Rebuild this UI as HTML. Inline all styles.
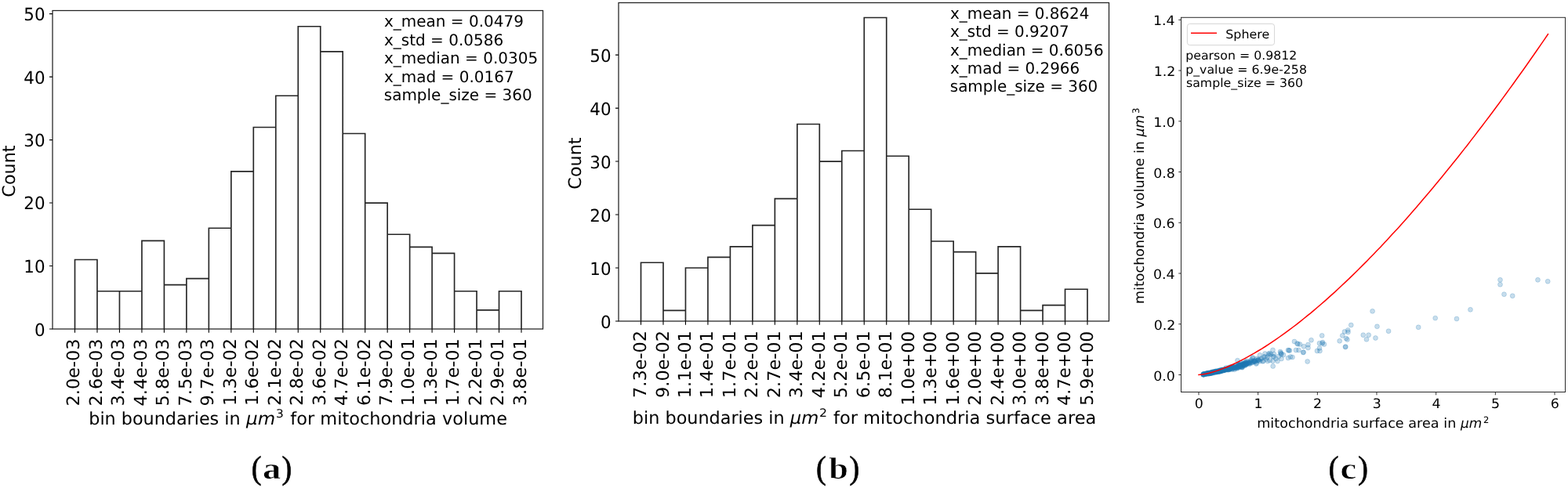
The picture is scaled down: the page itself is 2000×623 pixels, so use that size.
<!DOCTYPE html>
<html lang="en"><head><meta charset="utf-8"><title>Mitochondria volume and surface area statistics</title>
<style>
html,body{margin:0;padding:0;background:#fff;}
body{width:2000px;height:623px;overflow:hidden;}
svg{display:block;}
svg text{font-family:"DejaVu Sans","Liberation Sans",sans-serif;fill:#000;text-rendering:geometricPrecision;}
svg text.cm{font-family:"Liberation Serif","DejaVu Serif",serif;font-weight:bold;stroke:#fff;stroke-width:0.6px;}
svg text.cp{font-family:"Liberation Serif","DejaVu Serif",serif;font-weight:normal;stroke:#000;stroke-width:0.7px;}
</style></head><body>
<svg width="2000" height="623" viewBox="0 0 2000 623">
<rect width="2000" height="623" fill="#fff"/>
<g id="panel-a">
<path d="M95.50 420.00V331.48H123.97V420.00M123.97 420.00V371.72H152.45V420.00M152.45 420.00V371.72H180.93V420.00M180.93 420.00V307.34H209.40V420.00M209.40 420.00V363.67H237.88V420.00M237.88 420.00V355.62H266.35V420.00M266.35 420.00V291.25H294.83V420.00M294.83 420.00V218.82H323.30V420.00M323.30 420.00V162.50H351.78V420.00M351.78 420.00V122.26H380.25V420.00M380.25 420.00V33.74H408.73V420.00M408.73 420.00V65.93H437.20V420.00M437.20 420.00V170.54H465.68V420.00M465.68 420.00V259.06H494.15V420.00M494.15 420.00V299.29H522.62V420.00M522.62 420.00V315.39H551.10V420.00M551.10 420.00V323.44H579.58V420.00M579.58 420.00V371.72H608.05V420.00M608.05 420.00V395.86H636.52V420.00M636.52 420.00V371.72H665.00V420.00" fill="none" stroke="#262626" stroke-width="1.65"/>
<rect x="67.00" y="13.50" width="625.50" height="406.50" fill="none" stroke="#222" stroke-width="1.25"/>
<path d="M95.50 420.00v4.8M123.97 420.00v4.8M152.45 420.00v4.8M180.93 420.00v4.8M209.40 420.00v4.8M237.88 420.00v4.8M266.35 420.00v4.8M294.83 420.00v4.8M323.30 420.00v4.8M351.78 420.00v4.8M380.25 420.00v4.8M408.73 420.00v4.8M437.20 420.00v4.8M465.68 420.00v4.8M494.15 420.00v4.8M522.62 420.00v4.8M551.10 420.00v4.8M579.58 420.00v4.8M608.05 420.00v4.8M636.52 420.00v4.8M665.00 420.00v4.8M67.00 420.00h-4.0M67.00 339.53h-4.0M67.00 259.06h-4.0M67.00 178.59h-4.0M67.00 98.12h-4.0M67.00 17.65h-4.0" fill="none" stroke="#000" stroke-width="1.1"/>
<text transform="translate(57.61 429.00) scale(0.9650 1.0000)" font-size="22.2" text-anchor="end">0</text>
<text transform="translate(57.61 348.10) scale(0.9650 1.0000)" font-size="22.2" text-anchor="end">10</text>
<text transform="translate(57.61 267.10) scale(0.9650 1.0000)" font-size="22.2" text-anchor="end">20</text>
<text transform="translate(57.61 187.00) scale(0.9650 1.0000)" font-size="22.2" text-anchor="end">30</text>
<text transform="translate(57.61 106.50) scale(0.9650 1.0000)" font-size="22.2" text-anchor="end">40</text>
<text transform="translate(57.61 25.90) scale(0.9650 1.0000)" font-size="22.2" text-anchor="end">50</text>
<text transform="translate(101.33 432.49) scale(1.0000 1.0092) rotate(-90)" font-size="22.2" text-anchor="end">2.0e-03</text>
<text transform="translate(129.80 432.49) scale(1.0000 1.0092) rotate(-90)" font-size="22.2" text-anchor="end">2.6e-03</text>
<text transform="translate(158.27 432.49) scale(1.0000 1.0092) rotate(-90)" font-size="22.2" text-anchor="end">3.4e-03</text>
<text transform="translate(186.75 432.49) scale(1.0000 1.0092) rotate(-90)" font-size="22.2" text-anchor="end">4.4e-03</text>
<text transform="translate(215.22 432.49) scale(1.0000 1.0092) rotate(-90)" font-size="22.2" text-anchor="end">5.8e-03</text>
<text transform="translate(243.70 432.49) scale(1.0000 1.0092) rotate(-90)" font-size="22.2" text-anchor="end">7.5e-03</text>
<text transform="translate(272.18 432.49) scale(1.0000 1.0092) rotate(-90)" font-size="22.2" text-anchor="end">9.7e-03</text>
<text transform="translate(300.65 431.98) scale(1.0000 1.0092) rotate(-90)" font-size="22.2" text-anchor="end">1.3e-02</text>
<text transform="translate(329.12 431.98) scale(1.0000 1.0092) rotate(-90)" font-size="22.2" text-anchor="end">1.6e-02</text>
<text transform="translate(357.60 431.98) scale(1.0000 1.0092) rotate(-90)" font-size="22.2" text-anchor="end">2.1e-02</text>
<text transform="translate(386.07 431.98) scale(1.0000 1.0092) rotate(-90)" font-size="22.2" text-anchor="end">2.8e-02</text>
<text transform="translate(414.55 431.98) scale(1.0000 1.0092) rotate(-90)" font-size="22.2" text-anchor="end">3.6e-02</text>
<text transform="translate(443.03 431.98) scale(1.0000 1.0092) rotate(-90)" font-size="22.2" text-anchor="end">4.7e-02</text>
<text transform="translate(471.50 431.98) scale(1.0000 1.0092) rotate(-90)" font-size="22.2" text-anchor="end">6.1e-02</text>
<text transform="translate(499.98 431.98) scale(1.0000 1.0092) rotate(-90)" font-size="22.2" text-anchor="end">7.9e-02</text>
<text transform="translate(528.45 432.23) scale(1.0000 1.0092) rotate(-90)" font-size="22.2" text-anchor="end">1.0e-01</text>
<text transform="translate(556.93 432.23) scale(1.0000 1.0092) rotate(-90)" font-size="22.2" text-anchor="end">1.3e-01</text>
<text transform="translate(585.40 432.23) scale(1.0000 1.0092) rotate(-90)" font-size="22.2" text-anchor="end">1.7e-01</text>
<text transform="translate(613.88 432.23) scale(1.0000 1.0092) rotate(-90)" font-size="22.2" text-anchor="end">2.2e-01</text>
<text transform="translate(642.35 432.23) scale(1.0000 1.0092) rotate(-90)" font-size="22.2" text-anchor="end">2.9e-01</text>
<text transform="translate(670.83 432.23) scale(1.0000 1.0092) rotate(-90)" font-size="22.2" text-anchor="end">3.8e-01</text>
<text transform="translate(113.24 542.00) scale(1.0040 1.0000)" font-size="22.2">bin boundaries in</text>
<text transform="translate(314.11 542.00) scale(1.0348 1.0000)" font-size="22.2" font-style="italic">μm</text>
<text transform="translate(351.91 532.91) scale(0.9931 0.9447)" font-size="15.5">3</text>
<text transform="translate(370.34 542.00) scale(1.0107 1.0000)" font-size="22.2">for mitochondria volume</text>
<text transform="translate(19.12 218.58) scale(1.0000 1.0039) rotate(-90)" font-size="22.2" text-anchor="middle">Count</text>
<text transform="translate(490.00 34.30) scale(0.9992 1.0000)" font-size="20">x_mean = 0.0479</text>
<text transform="translate(490.00 57.70) scale(0.9992 1.0000)" font-size="20">x_std = 0.0586</text>
<text transform="translate(490.00 81.10) scale(0.9992 1.0000)" font-size="20">x_median = 0.0305</text>
<text transform="translate(490.00 104.50) scale(0.9992 1.0000)" font-size="20">x_mad = 0.0167</text>
<text transform="translate(489.75 127.90) scale(0.9992 1.0000)" font-size="20">sample_size = 360</text>
</g>
<g id="panel-b">
<path d="M817.50 410.00V335.22H845.98V410.00M845.98 410.00V396.40H874.45V410.00M874.45 410.00V342.02H902.92V410.00M902.92 410.00V328.42H931.40V410.00M931.40 410.00V314.83H959.88V410.00M959.88 410.00V287.64H988.35V410.00M988.35 410.00V253.65H1016.83V410.00M1016.83 410.00V158.47H1045.30V410.00M1045.30 410.00V206.06H1073.78V410.00M1073.78 410.00V192.46H1102.25V410.00M1102.25 410.00V22.51H1130.72V410.00M1130.72 410.00V199.26H1159.20V410.00M1159.20 410.00V267.24H1187.67V410.00M1187.67 410.00V308.03H1216.15V410.00M1216.15 410.00V321.63H1244.62V410.00M1244.62 410.00V348.82H1273.10V410.00M1273.10 410.00V314.83H1301.58V410.00M1301.58 410.00V396.40H1330.05V410.00M1330.05 410.00V389.61H1358.53V410.00M1358.53 410.00V369.21H1387.00V410.00" fill="none" stroke="#262626" stroke-width="1.65"/>
<rect x="789.00" y="3.50" width="625.50" height="406.50" fill="none" stroke="#222" stroke-width="1.25"/>
<path d="M817.50 410.00v4.8M845.98 410.00v4.8M874.45 410.00v4.8M902.92 410.00v4.8M931.40 410.00v4.8M959.88 410.00v4.8M988.35 410.00v4.8M1016.83 410.00v4.8M1045.30 410.00v4.8M1073.78 410.00v4.8M1102.25 410.00v4.8M1130.72 410.00v4.8M1159.20 410.00v4.8M1187.67 410.00v4.8M1216.15 410.00v4.8M1244.62 410.00v4.8M1273.10 410.00v4.8M1301.58 410.00v4.8M1330.05 410.00v4.8M1358.53 410.00v4.8M1387.00 410.00v4.8M789.00 410.00h-4.0M789.00 342.02h-4.0M789.00 274.04h-4.0M789.00 206.06h-4.0M789.00 138.08h-4.0M789.00 70.10h-4.0" fill="none" stroke="#000" stroke-width="1.1"/>
<text transform="translate(779.61 419.00) scale(0.9650 1.0000)" font-size="22.2" text-anchor="end">0</text>
<text transform="translate(779.61 351.02) scale(0.9650 1.0000)" font-size="22.2" text-anchor="end">10</text>
<text transform="translate(779.61 283.04) scale(0.9650 1.0000)" font-size="22.2" text-anchor="end">20</text>
<text transform="translate(779.61 215.06) scale(0.9650 1.0000)" font-size="22.2" text-anchor="end">30</text>
<text transform="translate(779.61 147.08) scale(0.9650 1.0000)" font-size="22.2" text-anchor="end">40</text>
<text transform="translate(779.61 79.10) scale(0.9650 1.0000)" font-size="22.2" text-anchor="end">50</text>
<text transform="translate(824.02 421.98) scale(1.0000 1.0092) rotate(-90)" font-size="22.2" text-anchor="end">7.3e-02</text>
<text transform="translate(852.50 421.98) scale(1.0000 1.0092) rotate(-90)" font-size="22.2" text-anchor="end">9.0e-02</text>
<text transform="translate(880.98 422.23) scale(1.0000 1.0092) rotate(-90)" font-size="22.2" text-anchor="end">1.1e-01</text>
<text transform="translate(909.45 422.23) scale(1.0000 1.0092) rotate(-90)" font-size="22.2" text-anchor="end">1.4e-01</text>
<text transform="translate(937.92 422.23) scale(1.0000 1.0092) rotate(-90)" font-size="22.2" text-anchor="end">1.7e-01</text>
<text transform="translate(966.40 422.23) scale(1.0000 1.0092) rotate(-90)" font-size="22.2" text-anchor="end">2.2e-01</text>
<text transform="translate(994.88 422.23) scale(1.0000 1.0092) rotate(-90)" font-size="22.2" text-anchor="end">2.7e-01</text>
<text transform="translate(1023.35 422.23) scale(1.0000 1.0092) rotate(-90)" font-size="22.2" text-anchor="end">3.4e-01</text>
<text transform="translate(1051.83 422.23) scale(1.0000 1.0092) rotate(-90)" font-size="22.2" text-anchor="end">4.2e-01</text>
<text transform="translate(1080.30 422.23) scale(1.0000 1.0092) rotate(-90)" font-size="22.2" text-anchor="end">5.2e-01</text>
<text transform="translate(1108.78 422.23) scale(1.0000 1.0092) rotate(-90)" font-size="22.2" text-anchor="end">6.5e-01</text>
<text transform="translate(1137.25 422.23) scale(1.0000 1.0092) rotate(-90)" font-size="22.2" text-anchor="end">8.1e-01</text>
<text transform="translate(1165.73 422.76) scale(1.0000 0.9924) rotate(-90)" font-size="22.2" text-anchor="end">1.0e+00</text>
<text transform="translate(1194.20 422.76) scale(1.0000 0.9924) rotate(-90)" font-size="22.2" text-anchor="end">1.3e+00</text>
<text transform="translate(1222.68 422.76) scale(1.0000 0.9924) rotate(-90)" font-size="22.2" text-anchor="end">1.6e+00</text>
<text transform="translate(1251.15 422.76) scale(1.0000 0.9924) rotate(-90)" font-size="22.2" text-anchor="end">2.0e+00</text>
<text transform="translate(1279.62 422.76) scale(1.0000 0.9924) rotate(-90)" font-size="22.2" text-anchor="end">2.4e+00</text>
<text transform="translate(1308.10 422.76) scale(1.0000 0.9924) rotate(-90)" font-size="22.2" text-anchor="end">3.0e+00</text>
<text transform="translate(1336.58 422.76) scale(1.0000 0.9924) rotate(-90)" font-size="22.2" text-anchor="end">3.8e+00</text>
<text transform="translate(1365.05 422.76) scale(1.0000 0.9924) rotate(-90)" font-size="22.2" text-anchor="end">4.7e+00</text>
<text transform="translate(1393.53 422.76) scale(1.0000 0.9924) rotate(-90)" font-size="22.2" text-anchor="end">5.9e+00</text>
<text transform="translate(806.84 541.00) scale(1.0061 1.0000)" font-size="22.2">bin boundaries in</text>
<text transform="translate(1007.81 541.00) scale(1.0203 1.0000)" font-size="22.2" font-style="italic">μm</text>
<text transform="translate(1044.98 531.75) scale(1.0143 0.9304)" font-size="15.5">2</text>
<text transform="translate(1062.94 541.00) scale(1.0162 1.0000)" font-size="22.2">for mitochondria surface area</text>
<text transform="translate(741.12 208.58) scale(1.0000 1.0039) rotate(-90)" font-size="22.2" text-anchor="middle">Count</text>
<text transform="translate(1212.00 24.30) scale(0.9967 1.0000)" font-size="20">x_mean = 0.8624</text>
<text transform="translate(1212.00 47.10) scale(0.9967 1.0000)" font-size="20">x_std = 0.9207</text>
<text transform="translate(1212.00 70.50) scale(0.9967 1.0000)" font-size="20">x_median = 0.6056</text>
<text transform="translate(1212.00 93.90) scale(0.9967 1.0000)" font-size="20">x_mad = 0.2966</text>
<text transform="translate(1211.75 117.30) scale(0.9967 1.0000)" font-size="20">sample_size = 360</text>
</g>
<g id="panel-c">
<g fill="#1f77b4" fill-opacity="0.25" stroke="#1f77b4" stroke-opacity="0.25" stroke-width="0.9">
<circle cx="1913.5" cy="357.3" r="2.95"/>
<circle cx="1913.5" cy="363.2" r="2.95"/>
<circle cx="1918.5" cy="375.7" r="2.95"/>
<circle cx="1929.2" cy="377.7" r="2.95"/>
<circle cx="1961.5" cy="357.3" r="2.95"/>
<circle cx="1974.2" cy="359.2" r="2.95"/>
<circle cx="1830.7" cy="406.1" r="2.95"/>
<circle cx="1858.0" cy="407.0" r="2.95"/>
<circle cx="1875.5" cy="395.3" r="2.95"/>
<circle cx="1771.1" cy="422.7" r="2.95"/>
<circle cx="1809.2" cy="417.8" r="2.95"/>
<circle cx="1750.6" cy="397.3" r="2.95"/>
<circle cx="1723.3" cy="415.0" r="2.95"/>
<circle cx="1756.5" cy="416.8" r="2.95"/>
<circle cx="1719.3" cy="421.5" r="2.95"/>
<circle cx="1715.0" cy="423.5" r="2.95"/>
<circle cx="1719.5" cy="424.0" r="2.95"/>
<circle cx="1712.3" cy="428.4" r="2.95"/>
<circle cx="1717.0" cy="432.0" r="2.95"/>
<circle cx="1718.5" cy="433.5" r="2.95"/>
<circle cx="1738.8" cy="427.7" r="2.95"/>
<circle cx="1745.7" cy="427.7" r="2.95"/>
<circle cx="1743.0" cy="433.3" r="2.95"/>
<circle cx="1754.5" cy="431.5" r="2.95"/>
<circle cx="1716.0" cy="443.0" r="2.95"/>
<circle cx="1716.3" cy="442.6" r="2.95"/>
<circle cx="1686.2" cy="428.4" r="2.95"/>
<circle cx="1683.0" cy="438.2" r="2.95"/>
<circle cx="1687.0" cy="437.0" r="2.95"/>
<circle cx="1689.0" cy="439.5" r="2.95"/>
<circle cx="1683.0" cy="444.5" r="2.95"/>
<circle cx="1683.5" cy="448.0" r="2.95"/>
<circle cx="1708.7" cy="435.3" r="2.95"/>
<circle cx="1680.0" cy="448.0" r="2.95"/>
<circle cx="1686.5" cy="438.4" r="2.95"/>
<circle cx="1672.5" cy="434.2" r="2.95"/>
<circle cx="1651.0" cy="436.0" r="2.95"/>
<circle cx="1654.5" cy="438.5" r="2.95"/>
<circle cx="1658.0" cy="439.5" r="2.95"/>
<circle cx="1663.0" cy="442.2" r="2.95"/>
<circle cx="1668.5" cy="440.0" r="2.95"/>
<circle cx="1668.5" cy="444.0" r="2.95"/>
<circle cx="1653.0" cy="447.0" r="2.95"/>
<circle cx="1656.5" cy="447.0" r="2.95"/>
<circle cx="1662.3" cy="450.0" r="2.95"/>
<circle cx="1662.6" cy="449.6" r="2.95"/>
<circle cx="1667.7" cy="461.5" r="2.95"/>
<circle cx="1655.5" cy="439.2" r="2.95"/>
<circle cx="1643.0" cy="447.0" r="2.95"/>
<circle cx="1645.0" cy="447.5" r="2.95"/>
<circle cx="1643.0" cy="457.0" r="2.95"/>
<circle cx="1646.0" cy="455.5" r="2.95"/>
<circle cx="1648.5" cy="456.0" r="2.95"/>
<circle cx="1633.0" cy="449.0" r="2.95"/>
<circle cx="1634.5" cy="451.5" r="2.95"/>
<circle cx="1637.0" cy="453.0" r="2.95"/>
<circle cx="1634.5" cy="458.0" r="2.95"/>
<circle cx="1629.5" cy="461.0" r="2.95"/>
<circle cx="1627.5" cy="458.0" r="2.95"/>
<circle cx="1633.5" cy="450.5" r="2.95"/>
<circle cx="1634.0" cy="452.3" r="2.95"/>
<circle cx="1631.0" cy="455.0" r="2.95"/>
<circle cx="1644.0" cy="447.3" r="2.95"/>
<circle cx="1623.7" cy="467.5" r="2.95"/>
<circle cx="1578.5" cy="460.2" r="2.95"/>
<circle cx="1598.0" cy="456.5" r="2.95"/>
<circle cx="1607.0" cy="453.3" r="2.95"/>
<circle cx="1613.5" cy="451.5" r="2.95"/>
<circle cx="1619.5" cy="451.0" r="2.95"/>
<circle cx="1625.0" cy="452.0" r="2.95"/>
<circle cx="1624.0" cy="455.0" r="2.95"/>
<circle cx="1623.5" cy="461.0" r="2.95"/>
<circle cx="1617.0" cy="461.0" r="2.95"/>
<circle cx="1534.6" cy="478.2" r="2.95"/>
<circle cx="1534.7" cy="477.9" r="2.95"/>
<circle cx="1534.8" cy="477.9" r="2.95"/>
<circle cx="1534.9" cy="478.2" r="2.95"/>
<circle cx="1535.0" cy="478.1" r="2.95"/>
<circle cx="1535.2" cy="477.3" r="2.95"/>
<circle cx="1535.3" cy="478.4" r="2.95"/>
<circle cx="1535.5" cy="477.8" r="2.95"/>
<circle cx="1535.5" cy="477.3" r="2.95"/>
<circle cx="1535.6" cy="477.6" r="2.95"/>
<circle cx="1535.8" cy="478.2" r="2.95"/>
<circle cx="1535.9" cy="477.9" r="2.95"/>
<circle cx="1537.3" cy="477.4" r="2.95"/>
<circle cx="1537.7" cy="477.5" r="2.95"/>
<circle cx="1537.9" cy="477.3" r="2.95"/>
<circle cx="1538.1" cy="477.0" r="2.95"/>
<circle cx="1538.3" cy="477.7" r="2.95"/>
<circle cx="1538.4" cy="476.5" r="2.95"/>
<circle cx="1538.6" cy="477.1" r="2.95"/>
<circle cx="1538.9" cy="477.1" r="2.95"/>
<circle cx="1539.2" cy="477.1" r="2.95"/>
<circle cx="1539.3" cy="476.9" r="2.95"/>
<circle cx="1539.6" cy="476.7" r="2.95"/>
<circle cx="1539.7" cy="476.9" r="2.95"/>
<circle cx="1540.0" cy="476.8" r="2.95"/>
<circle cx="1540.2" cy="476.8" r="2.95"/>
<circle cx="1540.3" cy="477.4" r="2.95"/>
<circle cx="1540.5" cy="476.6" r="2.95"/>
<circle cx="1540.7" cy="476.4" r="2.95"/>
<circle cx="1540.9" cy="476.7" r="2.95"/>
<circle cx="1541.3" cy="476.1" r="2.95"/>
<circle cx="1541.4" cy="477.0" r="2.95"/>
<circle cx="1541.7" cy="476.6" r="2.95"/>
<circle cx="1541.9" cy="477.2" r="2.95"/>
<circle cx="1542.1" cy="477.1" r="2.95"/>
<circle cx="1542.3" cy="476.6" r="2.95"/>
<circle cx="1542.6" cy="476.7" r="2.95"/>
<circle cx="1542.8" cy="476.5" r="2.95"/>
<circle cx="1543.1" cy="475.6" r="2.95"/>
<circle cx="1543.4" cy="475.9" r="2.95"/>
<circle cx="1543.5" cy="476.3" r="2.95"/>
<circle cx="1543.6" cy="476.7" r="2.95"/>
<circle cx="1543.9" cy="476.6" r="2.95"/>
<circle cx="1544.1" cy="476.4" r="2.95"/>
<circle cx="1544.3" cy="475.8" r="2.95"/>
<circle cx="1544.7" cy="476.4" r="2.95"/>
<circle cx="1544.9" cy="476.6" r="2.95"/>
<circle cx="1545.3" cy="475.2" r="2.95"/>
<circle cx="1545.4" cy="476.5" r="2.95"/>
<circle cx="1545.6" cy="476.1" r="2.95"/>
<circle cx="1545.9" cy="475.3" r="2.95"/>
<circle cx="1546.1" cy="476.1" r="2.95"/>
<circle cx="1546.3" cy="474.9" r="2.95"/>
<circle cx="1546.6" cy="475.4" r="2.95"/>
<circle cx="1546.7" cy="475.5" r="2.95"/>
<circle cx="1546.9" cy="475.2" r="2.95"/>
<circle cx="1547.1" cy="475.0" r="2.95"/>
<circle cx="1547.4" cy="474.6" r="2.95"/>
<circle cx="1547.7" cy="475.5" r="2.95"/>
<circle cx="1547.8" cy="476.2" r="2.95"/>
<circle cx="1547.9" cy="475.3" r="2.95"/>
<circle cx="1548.4" cy="475.1" r="2.95"/>
<circle cx="1548.6" cy="474.4" r="2.95"/>
<circle cx="1548.7" cy="475.6" r="2.95"/>
<circle cx="1548.9" cy="474.7" r="2.95"/>
<circle cx="1549.3" cy="474.6" r="2.95"/>
<circle cx="1549.5" cy="474.9" r="2.95"/>
<circle cx="1549.8" cy="474.9" r="2.95"/>
<circle cx="1550.0" cy="474.9" r="2.95"/>
<circle cx="1550.1" cy="474.6" r="2.95"/>
<circle cx="1550.4" cy="474.7" r="2.95"/>
<circle cx="1550.6" cy="474.9" r="2.95"/>
<circle cx="1550.7" cy="474.0" r="2.95"/>
<circle cx="1550.9" cy="473.7" r="2.95"/>
<circle cx="1551.3" cy="474.9" r="2.95"/>
<circle cx="1551.3" cy="475.5" r="2.95"/>
<circle cx="1551.7" cy="474.5" r="2.95"/>
<circle cx="1551.8" cy="474.6" r="2.95"/>
<circle cx="1552.1" cy="474.7" r="2.95"/>
<circle cx="1552.2" cy="474.1" r="2.95"/>
<circle cx="1552.4" cy="474.2" r="2.95"/>
<circle cx="1552.7" cy="474.3" r="2.95"/>
<circle cx="1552.9" cy="473.5" r="2.95"/>
<circle cx="1553.2" cy="474.5" r="2.95"/>
<circle cx="1553.4" cy="474.0" r="2.95"/>
<circle cx="1553.5" cy="473.9" r="2.95"/>
<circle cx="1553.8" cy="474.8" r="2.95"/>
<circle cx="1554.0" cy="473.9" r="2.95"/>
<circle cx="1554.3" cy="473.9" r="2.95"/>
<circle cx="1554.5" cy="474.4" r="2.95"/>
<circle cx="1554.8" cy="474.3" r="2.95"/>
<circle cx="1555.0" cy="474.0" r="2.95"/>
<circle cx="1555.1" cy="474.2" r="2.95"/>
<circle cx="1555.2" cy="473.8" r="2.95"/>
<circle cx="1555.4" cy="472.6" r="2.95"/>
<circle cx="1555.6" cy="474.3" r="2.95"/>
<circle cx="1555.7" cy="473.1" r="2.95"/>
<circle cx="1555.8" cy="474.1" r="2.95"/>
<circle cx="1556.0" cy="473.5" r="2.95"/>
<circle cx="1556.2" cy="473.0" r="2.95"/>
<circle cx="1556.3" cy="474.1" r="2.95"/>
<circle cx="1556.6" cy="473.8" r="2.95"/>
<circle cx="1556.6" cy="473.0" r="2.95"/>
<circle cx="1556.9" cy="473.3" r="2.95"/>
<circle cx="1557.0" cy="474.2" r="2.95"/>
<circle cx="1557.1" cy="473.3" r="2.95"/>
<circle cx="1557.4" cy="472.6" r="2.95"/>
<circle cx="1557.4" cy="473.4" r="2.95"/>
<circle cx="1557.7" cy="473.0" r="2.95"/>
<circle cx="1557.9" cy="472.7" r="2.95"/>
<circle cx="1558.0" cy="472.9" r="2.95"/>
<circle cx="1558.2" cy="473.4" r="2.95"/>
<circle cx="1558.4" cy="472.3" r="2.95"/>
<circle cx="1558.5" cy="473.2" r="2.95"/>
<circle cx="1558.7" cy="473.6" r="2.95"/>
<circle cx="1558.9" cy="473.3" r="2.95"/>
<circle cx="1559.0" cy="471.8" r="2.95"/>
<circle cx="1559.2" cy="472.9" r="2.95"/>
<circle cx="1559.4" cy="472.6" r="2.95"/>
<circle cx="1559.6" cy="472.9" r="2.95"/>
<circle cx="1559.8" cy="472.5" r="2.95"/>
<circle cx="1559.9" cy="472.5" r="2.95"/>
<circle cx="1560.1" cy="472.7" r="2.95"/>
<circle cx="1560.4" cy="472.3" r="2.95"/>
<circle cx="1560.5" cy="472.8" r="2.95"/>
<circle cx="1560.7" cy="472.5" r="2.95"/>
<circle cx="1561.0" cy="472.9" r="2.95"/>
<circle cx="1561.2" cy="473.0" r="2.95"/>
<circle cx="1561.4" cy="472.7" r="2.95"/>
<circle cx="1561.6" cy="472.0" r="2.95"/>
<circle cx="1561.9" cy="471.3" r="2.95"/>
<circle cx="1562.1" cy="472.1" r="2.95"/>
<circle cx="1562.3" cy="472.7" r="2.95"/>
<circle cx="1562.5" cy="471.7" r="2.95"/>
<circle cx="1562.8" cy="471.5" r="2.95"/>
<circle cx="1563.2" cy="471.5" r="2.95"/>
<circle cx="1563.3" cy="471.9" r="2.95"/>
<circle cx="1563.5" cy="471.3" r="2.95"/>
<circle cx="1563.8" cy="469.5" r="2.95"/>
<circle cx="1564.0" cy="471.7" r="2.95"/>
<circle cx="1564.3" cy="471.8" r="2.95"/>
<circle cx="1564.6" cy="471.6" r="2.95"/>
<circle cx="1564.8" cy="471.9" r="2.95"/>
<circle cx="1565.0" cy="471.6" r="2.95"/>
<circle cx="1565.3" cy="471.0" r="2.95"/>
<circle cx="1565.7" cy="471.2" r="2.95"/>
<circle cx="1566.0" cy="471.5" r="2.95"/>
<circle cx="1566.2" cy="472.4" r="2.95"/>
<circle cx="1566.6" cy="470.1" r="2.95"/>
<circle cx="1566.6" cy="469.6" r="2.95"/>
<circle cx="1567.1" cy="471.5" r="2.95"/>
<circle cx="1567.2" cy="471.8" r="2.95"/>
<circle cx="1567.6" cy="469.7" r="2.95"/>
<circle cx="1567.9" cy="471.6" r="2.95"/>
<circle cx="1568.2" cy="471.4" r="2.95"/>
<circle cx="1568.3" cy="471.4" r="2.95"/>
<circle cx="1568.6" cy="469.9" r="2.95"/>
<circle cx="1569.0" cy="471.2" r="2.95"/>
<circle cx="1569.3" cy="468.4" r="2.95"/>
<circle cx="1569.6" cy="470.3" r="2.95"/>
<circle cx="1569.9" cy="469.0" r="2.95"/>
<circle cx="1570.0" cy="469.8" r="2.95"/>
<circle cx="1570.5" cy="469.2" r="2.95"/>
<circle cx="1570.7" cy="468.6" r="2.95"/>
<circle cx="1571.0" cy="470.5" r="2.95"/>
<circle cx="1571.3" cy="471.7" r="2.95"/>
<circle cx="1571.5" cy="470.1" r="2.95"/>
<circle cx="1571.9" cy="468.5" r="2.95"/>
<circle cx="1572.0" cy="469.7" r="2.95"/>
<circle cx="1572.5" cy="468.2" r="2.95"/>
<circle cx="1572.7" cy="470.9" r="2.95"/>
<circle cx="1573.2" cy="469.5" r="2.95"/>
<circle cx="1573.5" cy="469.2" r="2.95"/>
<circle cx="1573.7" cy="468.8" r="2.95"/>
<circle cx="1573.9" cy="468.8" r="2.95"/>
<circle cx="1574.2" cy="468.3" r="2.95"/>
<circle cx="1574.5" cy="471.7" r="2.95"/>
<circle cx="1575.0" cy="469.3" r="2.95"/>
<circle cx="1575.3" cy="468.6" r="2.95"/>
<circle cx="1575.5" cy="470.0" r="2.95"/>
<circle cx="1575.7" cy="470.0" r="2.95"/>
<circle cx="1576.1" cy="468.7" r="2.95"/>
<circle cx="1576.4" cy="468.2" r="2.95"/>
<circle cx="1576.9" cy="468.8" r="2.95"/>
<circle cx="1577.3" cy="469.1" r="2.95"/>
<circle cx="1577.4" cy="470.5" r="2.95"/>
<circle cx="1578.0" cy="469.1" r="2.95"/>
<circle cx="1578.1" cy="469.1" r="2.95"/>
<circle cx="1578.4" cy="467.1" r="2.95"/>
<circle cx="1578.7" cy="468.9" r="2.95"/>
<circle cx="1578.9" cy="467.0" r="2.95"/>
<circle cx="1579.2" cy="466.3" r="2.95"/>
<circle cx="1579.4" cy="465.0" r="2.95"/>
<circle cx="1579.6" cy="469.5" r="2.95"/>
<circle cx="1579.8" cy="469.2" r="2.95"/>
<circle cx="1579.9" cy="467.4" r="2.95"/>
<circle cx="1580.2" cy="466.7" r="2.95"/>
<circle cx="1580.3" cy="466.2" r="2.95"/>
<circle cx="1580.6" cy="467.7" r="2.95"/>
<circle cx="1580.7" cy="465.5" r="2.95"/>
<circle cx="1580.8" cy="466.5" r="2.95"/>
<circle cx="1581.1" cy="466.8" r="2.95"/>
<circle cx="1581.4" cy="466.1" r="2.95"/>
<circle cx="1581.5" cy="467.6" r="2.95"/>
<circle cx="1581.7" cy="466.5" r="2.95"/>
<circle cx="1581.9" cy="466.1" r="2.95"/>
<circle cx="1582.2" cy="468.0" r="2.95"/>
<circle cx="1582.3" cy="466.4" r="2.95"/>
<circle cx="1582.4" cy="467.8" r="2.95"/>
<circle cx="1582.7" cy="462.8" r="2.95"/>
<circle cx="1583.0" cy="466.8" r="2.95"/>
<circle cx="1583.1" cy="465.7" r="2.95"/>
<circle cx="1583.5" cy="465.4" r="2.95"/>
<circle cx="1583.5" cy="468.4" r="2.95"/>
<circle cx="1583.9" cy="468.6" r="2.95"/>
<circle cx="1584.0" cy="465.7" r="2.95"/>
<circle cx="1584.3" cy="464.2" r="2.95"/>
<circle cx="1584.3" cy="469.2" r="2.95"/>
<circle cx="1584.6" cy="467.3" r="2.95"/>
<circle cx="1584.9" cy="468.5" r="2.95"/>
<circle cx="1585.1" cy="466.2" r="2.95"/>
<circle cx="1585.2" cy="465.8" r="2.95"/>
<circle cx="1585.5" cy="466.5" r="2.95"/>
<circle cx="1585.8" cy="465.1" r="2.95"/>
<circle cx="1585.9" cy="464.2" r="2.95"/>
<circle cx="1586.1" cy="465.4" r="2.95"/>
<circle cx="1586.4" cy="464.6" r="2.95"/>
<circle cx="1586.7" cy="465.5" r="2.95"/>
<circle cx="1586.9" cy="466.9" r="2.95"/>
<circle cx="1587.2" cy="465.2" r="2.95"/>
<circle cx="1587.2" cy="463.6" r="2.95"/>
<circle cx="1587.5" cy="465.5" r="2.95"/>
<circle cx="1587.8" cy="464.9" r="2.95"/>
<circle cx="1587.9" cy="465.9" r="2.95"/>
<circle cx="1588.2" cy="464.1" r="2.95"/>
<circle cx="1588.4" cy="462.8" r="2.95"/>
<circle cx="1588.7" cy="466.4" r="2.95"/>
<circle cx="1588.8" cy="462.0" r="2.95"/>
<circle cx="1589.0" cy="463.6" r="2.95"/>
<circle cx="1589.3" cy="465.5" r="2.95"/>
<circle cx="1589.6" cy="464.1" r="2.95"/>
<circle cx="1589.7" cy="464.6" r="2.95"/>
<circle cx="1589.9" cy="464.4" r="2.95"/>
<circle cx="1590.4" cy="464.1" r="2.95"/>
<circle cx="1590.6" cy="460.7" r="2.95"/>
<circle cx="1590.7" cy="464.2" r="2.95"/>
<circle cx="1591.2" cy="462.1" r="2.95"/>
<circle cx="1591.5" cy="464.0" r="2.95"/>
<circle cx="1591.9" cy="463.0" r="2.95"/>
<circle cx="1592.8" cy="464.3" r="2.95"/>
<circle cx="1593.3" cy="463.0" r="2.95"/>
<circle cx="1593.7" cy="462.2" r="2.95"/>
<circle cx="1593.9" cy="464.7" r="2.95"/>
<circle cx="1594.4" cy="463.3" r="2.95"/>
<circle cx="1595.3" cy="461.1" r="2.95"/>
<circle cx="1595.8" cy="463.2" r="2.95"/>
<circle cx="1595.9" cy="459.3" r="2.95"/>
<circle cx="1596.8" cy="460.8" r="2.95"/>
<circle cx="1597.1" cy="463.1" r="2.95"/>
<circle cx="1597.6" cy="457.2" r="2.95"/>
<circle cx="1598.2" cy="462.1" r="2.95"/>
<circle cx="1599.1" cy="461.8" r="2.95"/>
<circle cx="1599.6" cy="460.6" r="2.95"/>
<circle cx="1600.2" cy="461.1" r="2.95"/>
<circle cx="1600.5" cy="461.7" r="2.95"/>
<circle cx="1601.3" cy="459.6" r="2.95"/>
<circle cx="1601.8" cy="461.2" r="2.95"/>
<circle cx="1602.3" cy="464.5" r="2.95"/>
<circle cx="1602.7" cy="463.5" r="2.95"/>
<circle cx="1603.2" cy="457.8" r="2.95"/>
<circle cx="1603.8" cy="460.1" r="2.95"/>
<circle cx="1604.5" cy="459.7" r="2.95"/>
<circle cx="1605.4" cy="458.9" r="2.95"/>
<circle cx="1605.5" cy="460.2" r="2.95"/>
<circle cx="1606.9" cy="461.2" r="2.95"/>
<circle cx="1607.9" cy="458.7" r="2.95"/>
<circle cx="1609.2" cy="457.5" r="2.95"/>
<circle cx="1610.5" cy="461.3" r="2.95"/>
<circle cx="1611.4" cy="461.0" r="2.95"/>
<circle cx="1612.2" cy="455.5" r="2.95"/>
<circle cx="1613.3" cy="455.5" r="2.95"/>
<circle cx="1614.9" cy="458.6" r="2.95"/>
<circle cx="1616.3" cy="456.1" r="2.95"/>
<circle cx="1618.2" cy="451.6" r="2.95"/>
<circle cx="1618.8" cy="453.4" r="2.95"/>
<circle cx="1619.6" cy="459.9" r="2.95"/>
<circle cx="1621.0" cy="452.4" r="2.95"/>
<circle cx="1623.5" cy="446.9" r="2.95"/>
<circle cx="1624.8" cy="455.6" r="2.95"/>
</g>
<path d="M1529.0 478.5L1533.5 478.1L1537.9 477.3L1542.4 476.2L1546.8 475.0L1551.3 473.6L1555.7 472.1L1560.2 470.4L1564.6 468.7L1569.1 466.8L1573.6 464.7L1578.0 462.6L1582.5 460.4L1586.9 458.1L1591.4 455.7L1595.8 453.2L1600.3 450.7L1604.7 448.0L1609.2 445.3L1613.7 442.5L1618.1 439.6L1622.6 436.6L1627.0 433.6L1631.5 430.5L1635.9 427.4L1640.4 424.1L1644.8 420.8L1649.3 417.5L1653.8 414.1L1658.2 410.6L1662.7 407.0L1667.1 403.4L1671.6 399.8L1676.0 396.1L1680.5 392.3L1684.9 388.5L1689.4 384.6L1693.9 380.6L1698.3 376.6L1702.8 372.6L1707.2 368.5L1711.7 364.3L1716.1 360.1L1720.6 355.9L1725.0 351.6L1729.5 347.2L1734.0 342.8L1738.4 338.4L1742.9 333.9L1747.3 329.3L1751.8 324.7L1756.2 320.1L1760.7 315.4L1765.1 310.7L1769.6 305.9L1774.0 301.1L1778.5 296.3L1783.0 291.4L1787.4 286.4L1791.9 281.4L1796.3 276.4L1800.8 271.3L1805.2 266.2L1809.7 261.0L1814.1 255.8L1818.6 250.6L1823.1 245.3L1827.5 240.0L1832.0 234.6L1836.4 229.2L1840.9 223.8L1845.3 218.3L1849.8 212.8L1854.2 207.3L1858.7 201.7L1863.2 196.0L1867.6 190.4L1872.1 184.7L1876.5 178.9L1881.0 173.1L1885.4 167.3L1889.9 161.5L1894.3 155.6L1898.8 149.7L1903.3 143.7L1907.7 137.7L1912.2 131.7L1916.6 125.6L1921.1 119.5L1925.5 113.4L1930.0 107.2L1934.4 101.0L1938.9 94.7L1943.4 88.5L1947.8 82.2L1952.3 75.8L1956.7 69.5L1961.2 63.0L1965.6 56.6L1970.1 50.1L1974.5 43.6" fill="none" stroke="#ff0000" stroke-width="1.5" stroke-linecap="square"/>
<rect x="1506.50" y="22.30" width="490.00" height="478.20" fill="none" stroke="#2a2a2a" stroke-width="1.0"/>
<path d="M1529.00 500.50v3.8M1604.67 500.50v3.8M1680.34 500.50v3.8M1756.01 500.50v3.8M1831.68 500.50v3.8M1907.35 500.50v3.8M1983.02 500.50v3.8M1506.50 478.50h-3.2M1506.50 413.76h-3.2M1506.50 349.02h-3.2M1506.50 284.28h-3.2M1506.50 219.54h-3.2M1506.50 154.80h-3.2M1506.50 90.06h-3.2M1506.50 25.32h-3.2" fill="none" stroke="#2a2a2a" stroke-width="1.0"/>
<text transform="translate(1529.30 520.80) scale(1.0300 1.0000)" font-size="16.9" text-anchor="middle">0</text>
<text transform="translate(1604.97 520.80) scale(1.0300 1.0000)" font-size="16.9" text-anchor="middle">1</text>
<text transform="translate(1680.64 520.80) scale(1.0300 1.0000)" font-size="16.9" text-anchor="middle">2</text>
<text transform="translate(1756.31 520.80) scale(1.0300 1.0000)" font-size="16.9" text-anchor="middle">3</text>
<text transform="translate(1831.98 520.80) scale(1.0300 1.0000)" font-size="16.9" text-anchor="middle">4</text>
<text transform="translate(1907.65 520.80) scale(1.0300 1.0000)" font-size="16.9" text-anchor="middle">5</text>
<text transform="translate(1983.32 520.80) scale(1.0300 1.0000)" font-size="16.9" text-anchor="middle">6</text>
<text transform="translate(1498.83 485.60) scale(1.0300 1.0000)" font-size="16.9" text-anchor="end">0.0</text>
<text transform="translate(1499.35 420.86) scale(1.0300 1.0000)" font-size="16.9" text-anchor="end">0.2</text>
<text transform="translate(1498.57 356.12) scale(1.0300 1.0000)" font-size="16.9" text-anchor="end">0.4</text>
<text transform="translate(1498.57 291.38) scale(1.0300 1.0000)" font-size="16.9" text-anchor="end">0.6</text>
<text transform="translate(1498.83 226.64) scale(1.0300 1.0000)" font-size="16.9" text-anchor="end">0.8</text>
<text transform="translate(1498.83 161.90) scale(1.0300 1.0000)" font-size="16.9" text-anchor="end">1.0</text>
<text transform="translate(1499.35 97.16) scale(1.0300 1.0000)" font-size="16.9" text-anchor="end">1.2</text>
<text transform="translate(1498.57 32.42) scale(1.0300 1.0000)" font-size="16.9" text-anchor="end">1.4</text>
<text transform="translate(1603.19 546.20) scale(1.0372 1.0000)" font-size="17.0">mitochondria surface area in</text>
<text transform="translate(1862.90 546.20) scale(0.9962 1.0000)" font-size="17.0" font-style="italic">μm</text>
<text transform="translate(1892.09 539.75) scale(0.9636 0.9486)" font-size="12">2</text>
<text transform="translate(1458.97 387.99) scale(1.0000 1.0299) rotate(-90)" font-size="17.0">mitochondria volume in</text>
<text transform="translate(1459.30 174.50) scale(1.0000 1.0151) rotate(-90)" font-size="17.0" font-style="italic">μm</text>
<text transform="translate(1452.50 144.91) scale(0.9838 0.9565) rotate(-90)" font-size="12">3</text>
<rect x="1514.4" y="30.4" width="111.2" height="27.2" rx="3.3" fill="#fff" fill-opacity="0.8" stroke="#ccc" stroke-opacity="0.8" stroke-width="1.0"/>
<path d="M1519 42.3H1552" stroke="#ff0000" stroke-width="1.5"/>
<text transform="translate(1563.21 49.30) scale(1.0385 1.0000)" font-size="15.3">Sphere</text>
<text transform="translate(1512.21 76.30) scale(1.0305 1.0000)" font-size="15.3">pearson = 0.9812</text>
<text transform="translate(1512.21 93.80) scale(1.0305 1.0000)" font-size="15.3">p_value = 6.9e-258</text>
<text transform="translate(1512.98 111.30) scale(1.0305 1.0000)" font-size="15.3">sample_size = 360</text>
</g>
<g id="captions">
<text transform="translate(320.82 610.62) scale(0.9545 1.0362)" font-size="40" class="cp">(</text>
<text transform="translate(334.90 610.65) scale(1.1657 0.9622)" font-size="40" class="cm">a</text>
<text transform="translate(359.60 610.62) scale(0.9545 1.0362)" font-size="40" class="cp">)</text>
<text transform="translate(1041.12 610.62) scale(0.9545 1.0362)" font-size="40" class="cp">(</text>
<text transform="translate(1057.32 610.65) scale(1.1077 0.9745)" font-size="40" class="cm">b</text>
<text transform="translate(1083.60 610.62) scale(0.9545 1.0362)" font-size="40" class="cp">)</text>
<text transform="translate(1694.82 610.62) scale(0.9545 1.0362)" font-size="40" class="cp">(</text>
<text transform="translate(1709.61 610.65) scale(1.1661 0.9622)" font-size="40" class="cm">c</text>
<text transform="translate(1732.30 610.62) scale(0.9545 1.0362)" font-size="40" class="cp">)</text>
</g>
</svg>
</body></html>
